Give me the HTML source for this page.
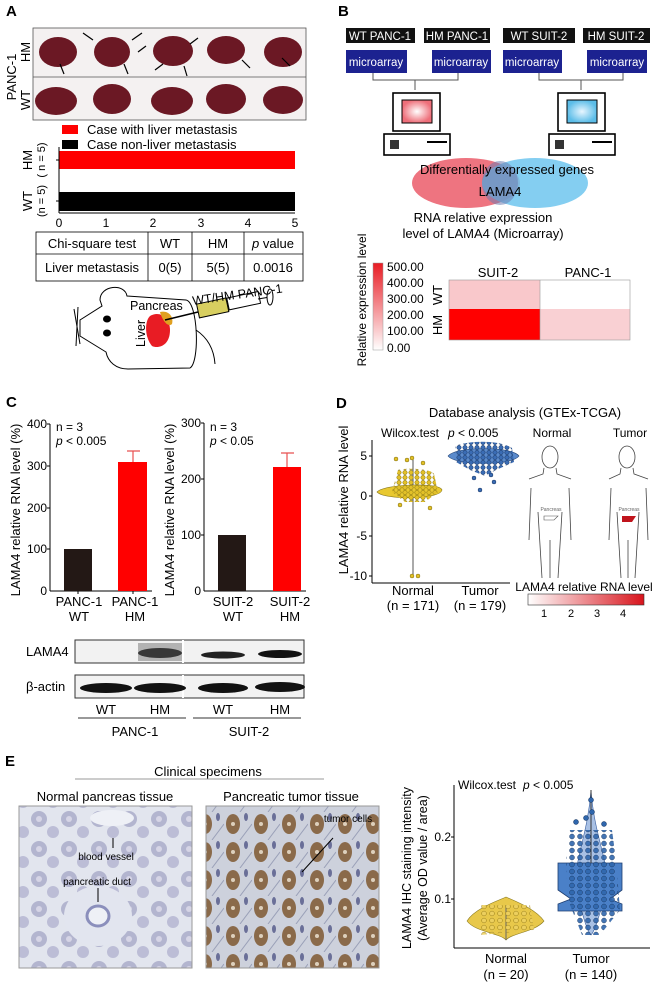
<!DOCTYPE html>
<html><head><meta charset="utf-8"><style>
html,body{margin:0;padding:0;background:#fff}
svg{display:block;font-family:"Liberation Sans",Arial,sans-serif}
</style></head><body>
<svg width="653" height="986" viewBox="0 0 653 986" xmlns="http://www.w3.org/2000/svg">
<defs>
<linearGradient id="cb1" x1="0" y1="1" x2="0" y2="0"><stop offset="0" stop-color="#fff"/><stop offset="1" stop-color="#e81c24"/></linearGradient>
<linearGradient id="cb2" x1="0" y1="0" x2="1" y2="0"><stop offset="0" stop-color="#fff"/><stop offset="1" stop-color="#d8141c"/></linearGradient>
<radialGradient id="scrP"><stop offset="0" stop-color="#fff"/><stop offset="1" stop-color="#ee6f7a"/></radialGradient>
<radialGradient id="scrB"><stop offset="0" stop-color="#e8f6ff"/><stop offset="1" stop-color="#5cbde8"/></radialGradient>
<pattern id="norm" width="30" height="30" patternUnits="userSpaceOnUse"><rect width="30" height="30" fill="#e2e5ee"/><circle cx="9" cy="9" r="8" fill="#b3b5cf"/><circle cx="23" cy="22" r="6" fill="#bcbdd6"/><circle cx="9" cy="9" r="3" fill="#d6d5e6"/></pattern>
<pattern id="tum" width="28" height="28" patternUnits="userSpaceOnUse"><rect width="28" height="28" fill="#cdd1dc"/><ellipse cx="9" cy="12" rx="7" ry="10" fill="#8a6a4a"/><ellipse cx="22" cy="5" rx="2" ry="4" fill="#6a6f98"/><circle cx="9" cy="12" r="2" fill="#ddd0bc"/><line x1="16" y1="28" x2="28" y2="12" stroke="#9aa0b8" stroke-width="1"/></pattern>
<pattern id="dY" width="6" height="5" patternUnits="userSpaceOnUse"><circle cx="3" cy="2.5" r="2.2" fill="#e2c028" stroke="#7a6a10" stroke-width="0.5"/></pattern>
<pattern id="dB" width="6" height="5" patternUnits="userSpaceOnUse"><circle cx="3" cy="2.5" r="2.2" fill="#3a6cb4" stroke="#18335e" stroke-width="0.5"/></pattern>
<pattern id="dB2" width="8" height="7" patternUnits="userSpaceOnUse"><circle cx="4" cy="3.5" r="2.5" fill="#2f66ac" stroke="#12305a" stroke-width="0.5"/></pattern>
<pattern id="dY2" width="8" height="7" patternUnits="userSpaceOnUse"><circle cx="4" cy="3.5" r="2.4" fill="#ecd060" stroke="#8a7010" stroke-width="0.5"/></pattern>
</defs>
<g font-size="12" fill="#000">
<!-- Panel A -->
<text x="6" y="16" font-size="15" font-weight="bold">A</text>
<rect x="33" y="28" width="273" height="92" fill="#f4f1f1" stroke="#555" stroke-width="0.8"/>
<line x1="33" y1="77" x2="306" y2="77" stroke="#555" stroke-width="0.8"/>
<g fill="#6b1824">
<ellipse cx="58" cy="52" rx="19" ry="15"/><ellipse cx="112" cy="52" rx="18" ry="15"/><ellipse cx="173" cy="51" rx="20" ry="15"/><ellipse cx="226" cy="50" rx="19" ry="14"/><ellipse cx="283" cy="52" rx="19" ry="15"/>
<ellipse cx="56" cy="101" rx="21" ry="14"/><ellipse cx="112" cy="99" rx="19" ry="15"/><ellipse cx="172" cy="101" rx="21" ry="14"/><ellipse cx="226" cy="99" rx="20" ry="15"/><ellipse cx="283" cy="100" rx="20" ry="14"/>
</g>
<g stroke="#000" stroke-width="1.2">
<line x1="83" y1="33" x2="93" y2="40"/><line x1="142" y1="33" x2="132" y2="40"/><line x1="138" y1="52" x2="146" y2="46"/><line x1="198" y1="38" x2="190" y2="44"/><line x1="64" y1="74" x2="60" y2="64"/><line x1="128" y1="74" x2="124" y2="64"/><line x1="155" y1="70" x2="163" y2="64"/><line x1="187" y1="76" x2="184" y2="66"/><line x1="250" y1="68" x2="242" y2="60"/><line x1="290" y1="66" x2="282" y2="58"/>
</g>
<text transform="translate(16,77) rotate(-90)" font-size="13" text-anchor="middle">PANC-1</text>
<text transform="translate(30,52) rotate(-90)" font-size="13" text-anchor="middle">HM</text>
<text transform="translate(30,100) rotate(-90)" font-size="13" text-anchor="middle">WT</text>
<rect x="62" y="125" width="16" height="9" fill="#f00"/><text x="87" y="134" font-size="13">Case with liver metastasis</text>
<rect x="62" y="140" width="16" height="9" fill="#000"/><text x="87" y="149" font-size="13">Case non-liver metastasis</text>
<rect x="59" y="151" width="236" height="18" fill="#f00"/>
<rect x="59" y="192" width="236" height="19" fill="#000"/>
<line x1="59" y1="147" x2="59" y2="213" stroke="#000"/>
<line x1="59" y1="213" x2="295" y2="213" stroke="#000"/>
<g stroke="#000"><line x1="56" y1="160" x2="59" y2="160"/><line x1="56" y1="201" x2="59" y2="201"/></g>
<g font-size="12" text-anchor="middle">
<text x="59" y="227">0</text><text x="106" y="227">1</text><text x="153" y="227">2</text><text x="201" y="227">3</text><text x="248" y="227">4</text><text x="295" y="227">5</text>
</g>
<text transform="translate(32,160) rotate(-90)" font-size="13" text-anchor="middle">HM</text>
<text transform="translate(45,160) rotate(-90)" font-size="11" text-anchor="middle">( n = 5)</text>
<text transform="translate(32,201) rotate(-90)" font-size="13" text-anchor="middle">WT</text>
<text transform="translate(45,201) rotate(-90)" font-size="11" text-anchor="middle">(n = 5)</text>
<rect x="36" y="232" width="267" height="49" fill="none" stroke="#000" stroke-width="0.8"/>
<line x1="36" y1="254" x2="303" y2="254" stroke="#000" stroke-width="0.8"/>
<line x1="148" y1="232" x2="148" y2="281" stroke="#000" stroke-width="0.8"/>
<line x1="192" y1="232" x2="192" y2="281" stroke="#000" stroke-width="0.8"/>
<line x1="244" y1="232" x2="244" y2="281" stroke="#000" stroke-width="0.8"/>
<g font-size="13" text-anchor="middle">
<text x="92" y="248">Chi-square test</text><text x="170" y="248">WT</text><text x="218" y="248">HM</text><text x="273" y="248"><tspan font-style="italic">p</tspan> value</text>
<text x="92" y="272">Liver metastasis</text><text x="170" y="272">0(5)</text><text x="218" y="272">5(5)</text><text x="273" y="272">0.0016</text>
</g>
<!-- mouse -->
<path d="M100,300 C100,285 125,283 127,296 L186,300 C198,302 200,362 190,368 L128,369 C116,369 108,362 106,352 L80,336 L80,320 L102,306 Z" fill="#fff" stroke="#000" stroke-width="1"/>
<path d="M196,330 C208,338 214,350 215,364" fill="none" stroke="#000"/>
<line x1="78" y1="307" x2="76" y2="346" stroke="#000"/><line x1="74" y1="309" x2="80" y2="344" stroke="#000"/>
<ellipse cx="107" cy="319" rx="4" ry="3.5" fill="#000"/><ellipse cx="107" cy="333" rx="4" ry="3.5" fill="#000"/>
<path d="M150,316 C160,310 170,318 170,330 C170,346 158,349 152,346 C145,338 144,322 150,316Z" fill="#e81c24"/>
<path d="M160,312 C168,310 174,316 172,324 C168,328 162,320 160,312Z" fill="#e0a020"/>
<text x="130" y="310" font-size="12.5">Pancreas</text>
<text transform="translate(145,347) rotate(-90)" font-size="12.5">Liver</text>
<line x1="165" y1="320" x2="198" y2="312" stroke="#000" stroke-width="1.5"/>
<rect x="198" y="304" width="30" height="14" fill="#d8cf60" stroke="#000" transform="rotate(-12 198 311)"/>
<rect x="228" y="298" width="32" height="12" fill="#fff" stroke="#000" transform="rotate(-12 228 304)"/>
<line x1="258" y1="299" x2="270" y2="297" stroke="#000"/><ellipse cx="270" cy="297" rx="3" ry="8" fill="#fff" stroke="#000"/>
<text x="193" y="305" font-size="12.5" transform="rotate(-8 193 305)">WT/HM PANC-1</text>

<!-- Panel B -->
<text x="338" y="16" font-size="15" font-weight="bold">B</text>
<g fill="#111"><rect x="346" y="28" width="69" height="15"/><rect x="424" y="28" width="66" height="15"/><rect x="503" y="28" width="72" height="15"/><rect x="583" y="28" width="67" height="15"/></g>
<g fill="#fff" font-size="11.5" text-anchor="middle"><text x="380" y="40">WT PANC-1</text><text x="457" y="40">HM PANC-1</text><text x="539" y="40">WT SUIT-2</text><text x="616" y="40">HM SUIT-2</text></g>
<g fill="#1c2290"><rect x="346" y="50" width="61" height="23"/><rect x="432" y="50" width="59" height="23"/><rect x="503" y="50" width="59" height="23"/><rect x="587" y="50" width="60" height="23"/></g>
<g fill="#fff" font-size="11.5" text-anchor="middle"><text x="376" y="66">microarray</text><text x="461" y="66">microarray</text><text x="532" y="66">microarray</text><text x="617" y="66">microarray</text></g>
<g stroke="#555" fill="none"><path d="M373,73 V80 H458 V73 M415,80 V90"/><path d="M539,73 V80 H623 V73 M581,80 V90"/></g>
<g stroke="#000" stroke-width="1.6" fill="#fff">
<rect x="393" y="93" width="47" height="38"/><rect x="384" y="134" width="66" height="21"/>
<rect x="558" y="93" width="47" height="38"/><rect x="549" y="134" width="66" height="21"/></g>
<rect x="402" y="100" width="30" height="23" fill="url(#scrP)" stroke="#000"/>
<rect x="567" y="100" width="30" height="23" fill="url(#scrB)" stroke="#000"/>
<g fill="#000"><rect x="390" y="140" width="9" height="9" opacity=".8"/><rect x="427" y="141" width="20" height="2"/><rect x="555" y="140" width="9" height="9" opacity=".8"/><rect x="592" y="141" width="20" height="2"/></g>
<ellipse cx="466" cy="183" rx="54" ry="25" fill="#ee7480"/>
<ellipse cx="535" cy="183" rx="53" ry="25" fill="#6ec5ee" opacity="0.85"/>
<ellipse cx="500" cy="183" rx="18" ry="22" fill="#6f7eb0" opacity="0.55"/>
<text x="507" y="174" font-size="13" text-anchor="middle">Differentially expressed genes</text>
<text x="500" y="196" font-size="13" text-anchor="middle">LAMA4</text>
<text x="483" y="222" font-size="13" text-anchor="middle">RNA relative expression</text>
<text x="483" y="238" font-size="13" text-anchor="middle">level of LAMA4 (Microarray)</text>
<rect x="373" y="263" width="10" height="87" fill="url(#cb1)" stroke="#999" stroke-width="0.5"/>
<g font-size="12"><text x="387" y="271">500.00</text><text x="387" y="287">400.00</text><text x="387" y="303">300.00</text><text x="387" y="319">200.00</text><text x="387" y="335">100.00</text><text x="387" y="352">0.00</text></g>
<text transform="translate(366,300) rotate(-90)" font-size="12" text-anchor="middle">Relative expression level</text>
<rect x="449" y="280" width="91" height="29" fill="#f9c8cb"/><rect x="540" y="280" width="90" height="29" fill="#fff"/>
<rect x="449" y="309" width="91" height="31" fill="#f00"/><rect x="540" y="309" width="90" height="31" fill="#f9d0d3"/>
<rect x="449" y="280" width="181" height="60" fill="none" stroke="#999" stroke-width="0.6"/>
<line x1="540" y1="280" x2="540" y2="340" stroke="#999" stroke-width="0.6"/>
<text x="498" y="277" font-size="13" text-anchor="middle">SUIT-2</text><text x="588" y="277" font-size="13" text-anchor="middle">PANC-1</text>
<text transform="translate(442,295) rotate(-90)" font-size="13" text-anchor="middle">WT</text>
<text transform="translate(442,325) rotate(-90)" font-size="13" text-anchor="middle">HM</text>

<!-- Panel C -->
<text x="6" y="407" font-size="15" font-weight="bold">C</text>
<line x1="50" y1="424" x2="50" y2="591" stroke="#000"/><line x1="50" y1="591" x2="152" y2="591" stroke="#000"/>
<g font-size="12" text-anchor="end"><text x="47" y="428">400</text><text x="47" y="470">300</text><text x="47" y="512">200</text><text x="47" y="553">100</text><text x="47" y="595">0</text></g>
<g stroke="#000"><line x1="47" y1="424" x2="50" y2="424"/><line x1="47" y1="466" x2="50" y2="466"/><line x1="47" y1="508" x2="50" y2="508"/><line x1="47" y1="549" x2="50" y2="549"/><line x1="78" y1="591" x2="78" y2="594"/><line x1="133" y1="591" x2="133" y2="594"/></g>
<rect x="64" y="549" width="28" height="42" fill="#231815"/>
<rect x="118" y="462" width="29" height="129" fill="#f00"/>
<path d="M133,462 V451 M127,451 H140" stroke="#e85050" stroke-width="1.2"/>
<text x="56" y="431" font-size="12">n = 3</text><text x="56" y="445" font-size="12"><tspan font-style="italic">p</tspan> &lt; 0.005</text>
<text transform="translate(20,510) rotate(-90)" font-size="13" text-anchor="middle">LAMA4 relative RNA level (%)</text>
<line x1="204" y1="423" x2="204" y2="591" stroke="#000"/><line x1="204" y1="591" x2="306" y2="591" stroke="#000"/>
<g font-size="12" text-anchor="end"><text x="201" y="427">300</text><text x="201" y="483">200</text><text x="201" y="539">100</text><text x="201" y="595">0</text></g>
<g stroke="#000"><line x1="201" y1="423" x2="204" y2="423"/><line x1="201" y1="479" x2="204" y2="479"/><line x1="201" y1="535" x2="204" y2="535"/></g>
<rect x="218" y="535" width="28" height="56" fill="#231815"/>
<rect x="273" y="467" width="28" height="124" fill="#f00"/>
<path d="M287,467 V453 M281,453 H294" stroke="#e85050" stroke-width="1.2"/>
<text x="210" y="431" font-size="12">n = 3</text><text x="210" y="445" font-size="12"><tspan font-style="italic">p</tspan> &lt; 0.05</text>
<text transform="translate(174,510) rotate(-90)" font-size="13" text-anchor="middle">LAMA4 relative RNA level (%)</text>
<g font-size="13" text-anchor="middle">
<text x="79" y="606">PANC-1</text><text x="79" y="621">WT</text><text x="135" y="606">PANC-1</text><text x="135" y="621">HM</text>
<text x="233" y="606">SUIT-2</text><text x="233" y="621">WT</text><text x="290" y="606">SUIT-2</text><text x="290" y="621">HM</text>
</g>
<rect x="75" y="640" width="229" height="23" fill="#f2f2f2" stroke="#333"/>
<rect x="75" y="675" width="229" height="23" fill="#f2f2f2" stroke="#333"/>
<line x1="183" y1="640" x2="183" y2="663" stroke="#fff" stroke-width="2"/><line x1="183" y1="675" x2="183" y2="698" stroke="#fff" stroke-width="2"/>
<rect x="138" y="643" width="44" height="18" fill="#222" opacity="0.3"/><ellipse cx="160" cy="653" rx="22" ry="5" fill="#222" opacity="0.85"/>
<ellipse cx="223" cy="655" rx="22" ry="3.5" fill="#222"/><ellipse cx="280" cy="654" rx="22" ry="4" fill="#111"/>
<g fill="#111"><ellipse cx="106" cy="688" rx="26" ry="5"/><ellipse cx="160" cy="688" rx="26" ry="5"/><ellipse cx="223" cy="688" rx="25" ry="5"/><ellipse cx="280" cy="687" rx="25" ry="5"/></g>
<text x="26" y="656" font-size="13">LAMA4</text><text x="26" y="691" font-size="13">β-actin</text>
<g font-size="13" text-anchor="middle"><text x="106" y="714">WT</text><text x="160" y="714">HM</text><text x="223" y="714">WT</text><text x="280" y="714">HM</text>
<text x="135" y="736">PANC-1</text><text x="249" y="736">SUIT-2</text></g>
<line x1="78" y1="718" x2="186" y2="718" stroke="#333"/><line x1="193" y1="718" x2="301" y2="718" stroke="#333"/>

<!-- Panel D -->
<text x="336" y="408" font-size="15" font-weight="bold">D</text>
<text x="525" y="417" font-size="13" text-anchor="middle">Database analysis (GTEx-TCGA)</text>
<line x1="372" y1="440" x2="372" y2="583" stroke="#000"/><line x1="372" y1="583" x2="510" y2="583" stroke="#000"/>
<g font-size="12" text-anchor="end"><text x="367" y="460">5</text><text x="367" y="500">0</text><text x="367" y="540">-5</text><text x="367" y="580">-10</text></g>
<g stroke="#000"><line x1="369" y1="456" x2="372" y2="456"/><line x1="369" y1="496" x2="372" y2="496"/><line x1="369" y1="536" x2="372" y2="536"/><line x1="369" y1="576" x2="372" y2="576"/></g>
<text transform="translate(348,500) rotate(-90)" font-size="13" text-anchor="middle">LAMA4 relative RNA level</text>
<text x="381" y="437" font-size="12">Wilcox.test</text><text x="448" y="437" font-size="12"><tspan font-style="italic">p</tspan> &lt; 0.005</text>
<line x1="413" y1="460" x2="413" y2="576" stroke="#555"/>
<path d="M377,492 C384,484 440,482 442,490 C440,500 384,500 377,492Z" fill="#e8c830" stroke="#8a7a20" stroke-width="0.6"/>
<path d="M398,470 C404,468 430,468 434,474 L438,492 L425,502 L405,502 L392,492Z" fill="url(#dY)"/>
<path d="M448,456 C456,446 512,446 519,456 C512,466 456,466 448,456Z" fill="#5a8acc" stroke="#1e3e70" stroke-width="0.6"/>
<path d="M455,446 C470,440 500,440 512,448 L514,462 L496,470 L485,476 L470,470 L456,462Z" fill="url(#dB)"/>
<g fill="#e2c028" stroke="#7a6a10" stroke-width="0.5"><circle cx="396" cy="459" r="2"/><circle cx="407" cy="460" r="2"/><circle cx="423" cy="463" r="2"/><circle cx="412" cy="458" r="2"/><circle cx="412" cy="576" r="2"/><circle cx="418" cy="576" r="2"/><circle cx="400" cy="505" r="2"/><circle cx="430" cy="508" r="2"/></g>
<g fill="#3a6cb4" stroke="#18335e" stroke-width="0.5"><circle cx="480" cy="490" r="2"/><circle cx="491" cy="475" r="2"/><circle cx="494" cy="482" r="2"/><circle cx="474" cy="478" r="2"/></g>
<g font-size="13" text-anchor="middle"><text x="413" y="595">Normal</text><text x="413" y="610">(n = 171)</text><text x="480" y="595">Tumor</text><text x="480" y="610">(n = 179)</text></g>
<text x="552" y="437" font-size="12" text-anchor="middle">Normal</text><text x="630" y="437" font-size="12" text-anchor="middle">Tumor</text>
<g fill="none" stroke="#444" stroke-width="0.8">
<ellipse cx="550" cy="457" rx="8" ry="11"/><path d="M544,468 L543,474 L529,479 M556,468 L557,474 L571,479"/>
<path d="M531,488 L529,540 M569,488 L571,540 M538,512 L542,578 M562,512 L558,578 M550,540 L550,578"/>
<ellipse cx="627" cy="457" rx="8" ry="11"/><path d="M621,468 L620,474 L609,479 M633,468 L634,474 L648,479"/>
<path d="M611,488 L609,540 M646,488 L648,540 M617,512 L621,578 M639,512 L635,578 M628,540 L628,578"/>
</g>
<text x="551" y="511" font-size="5" text-anchor="middle" fill="#666">Pancreas</text><path d="M544,516 h14 l-4,4 h-10z" fill="none" stroke="#555" stroke-width="0.6"/>
<text x="629" y="511" font-size="5" text-anchor="middle" fill="#666">Pancreas</text><path d="M622,516 h14 l-4,6 h-10z" fill="#c0141c"/>
<text x="584" y="591" font-size="12" text-anchor="middle">LAMA4 relative RNA level</text>
<rect x="528" y="594" width="116" height="11" fill="url(#cb2)" stroke="#333" stroke-width="0.6"/>
<g font-size="11" text-anchor="middle"><text x="544" y="617">1</text><text x="571" y="617">2</text><text x="597" y="617">3</text><text x="623" y="617">4</text></g>

<!-- Panel E -->
<text x="5" y="766" font-size="15" font-weight="bold">E</text>
<text x="208" y="776" font-size="13" text-anchor="middle">Clinical specimens</text>
<line x1="75" y1="779" x2="324" y2="779" stroke="#999"/>
<text x="105" y="801" font-size="13" text-anchor="middle">Normal pancreas tissue</text>
<text x="291" y="801" font-size="13" text-anchor="middle">Pancreatic tumor tissue</text>
<rect x="19" y="806" width="173" height="162" fill="url(#norm)" stroke="#999"/>
<ellipse cx="112" cy="818" rx="22" ry="8" fill="#eef0f6"/><ellipse cx="98" cy="916" rx="34" ry="30" fill="#e2e5ef"/><ellipse cx="98" cy="916" rx="11" ry="10" fill="#eef0f6" stroke="#8b8fbc" stroke-width="3"/>
<rect x="206" y="806" width="173" height="162" fill="url(#tum)" stroke="#999"/>
<g font-size="10" text-anchor="middle"><text x="106" y="860">blood vessel</text><text x="97" y="885">pancreatic duct</text><text x="348" y="822">tumor cells</text></g>
<path d="M113,848 V838" stroke="#000"/><path d="M98,888 V902" stroke="#000"/><path d="M333,838 L302,872" stroke="#000"/>
<line x1="454" y1="785" x2="454" y2="948" stroke="#000"/><line x1="454" y1="948" x2="650" y2="948" stroke="#000"/>
<g font-size="12" text-anchor="end"><text x="451" y="841">0.2</text><text x="451" y="903">0.1</text></g>
<g stroke="#000"><line x1="451" y1="837" x2="454" y2="837"/><line x1="451" y1="899" x2="454" y2="899"/></g>
<text transform="translate(411,868) rotate(-90)" font-size="12.5" text-anchor="middle">LAMA4 IHC staining intensity</text>
<text transform="translate(427,868) rotate(-90)" font-size="12.5" text-anchor="middle">(Average OD value / area)</text>
<text x="458" y="789" font-size="12">Wilcox.test</text><text x="523" y="789" font-size="12"><tspan font-style="italic">p</tspan> &lt; 0.005</text>
<path d="M467,921 C475,908 500,900 506,897 C512,900 535,908 544,921 C535,932 512,933 506,940 C500,933 475,932 467,921Z" fill="#e8c84a" stroke="#8a7a20" stroke-width="0.6"/>
<line x1="506" y1="905" x2="506" y2="940" stroke="#666"/>
<path d="M480,905 L530,905 L534,930 L480,935Z" fill="url(#dY2)" opacity="0.9"/>
<path d="M591,790 C594,830 604,850 608,880 C604,900 596,930 591,935 C586,930 578,900 575,880 C578,850 588,830 591,790Z" fill="#a8c0e4" stroke="#3a60a0" stroke-width="0.6"/>
<path d="M558,863 H622 V890 L610,899 L622,904 V911 H558 V904 L571,899 L558,890Z" fill="#4a80c8" stroke="#1e3e70" stroke-width="0.8"/>
<line x1="591" y1="790" x2="591" y2="863" stroke="#333"/>
<path d="M570,830 L612,830 L616,860 L620,910 L600,935 L582,935 L568,900 L566,860Z" fill="url(#dB2)" opacity="0.9"/>
<g fill="#2f66ac" stroke="#12305a" stroke-width="0.5"><circle cx="591" cy="800" r="2.5"/><circle cx="592" cy="812" r="2.5"/><circle cx="576" cy="822" r="2.5"/><circle cx="604" cy="824" r="2.5"/><circle cx="586" cy="818" r="2.5"/></g>
<g font-size="13" text-anchor="middle"><text x="506" y="963">Normal</text><text x="506" y="979">(n = 20)</text><text x="591" y="963">Tumor</text><text x="591" y="979">(n = 140)</text></g>
</g>
</svg>
</body></html>
